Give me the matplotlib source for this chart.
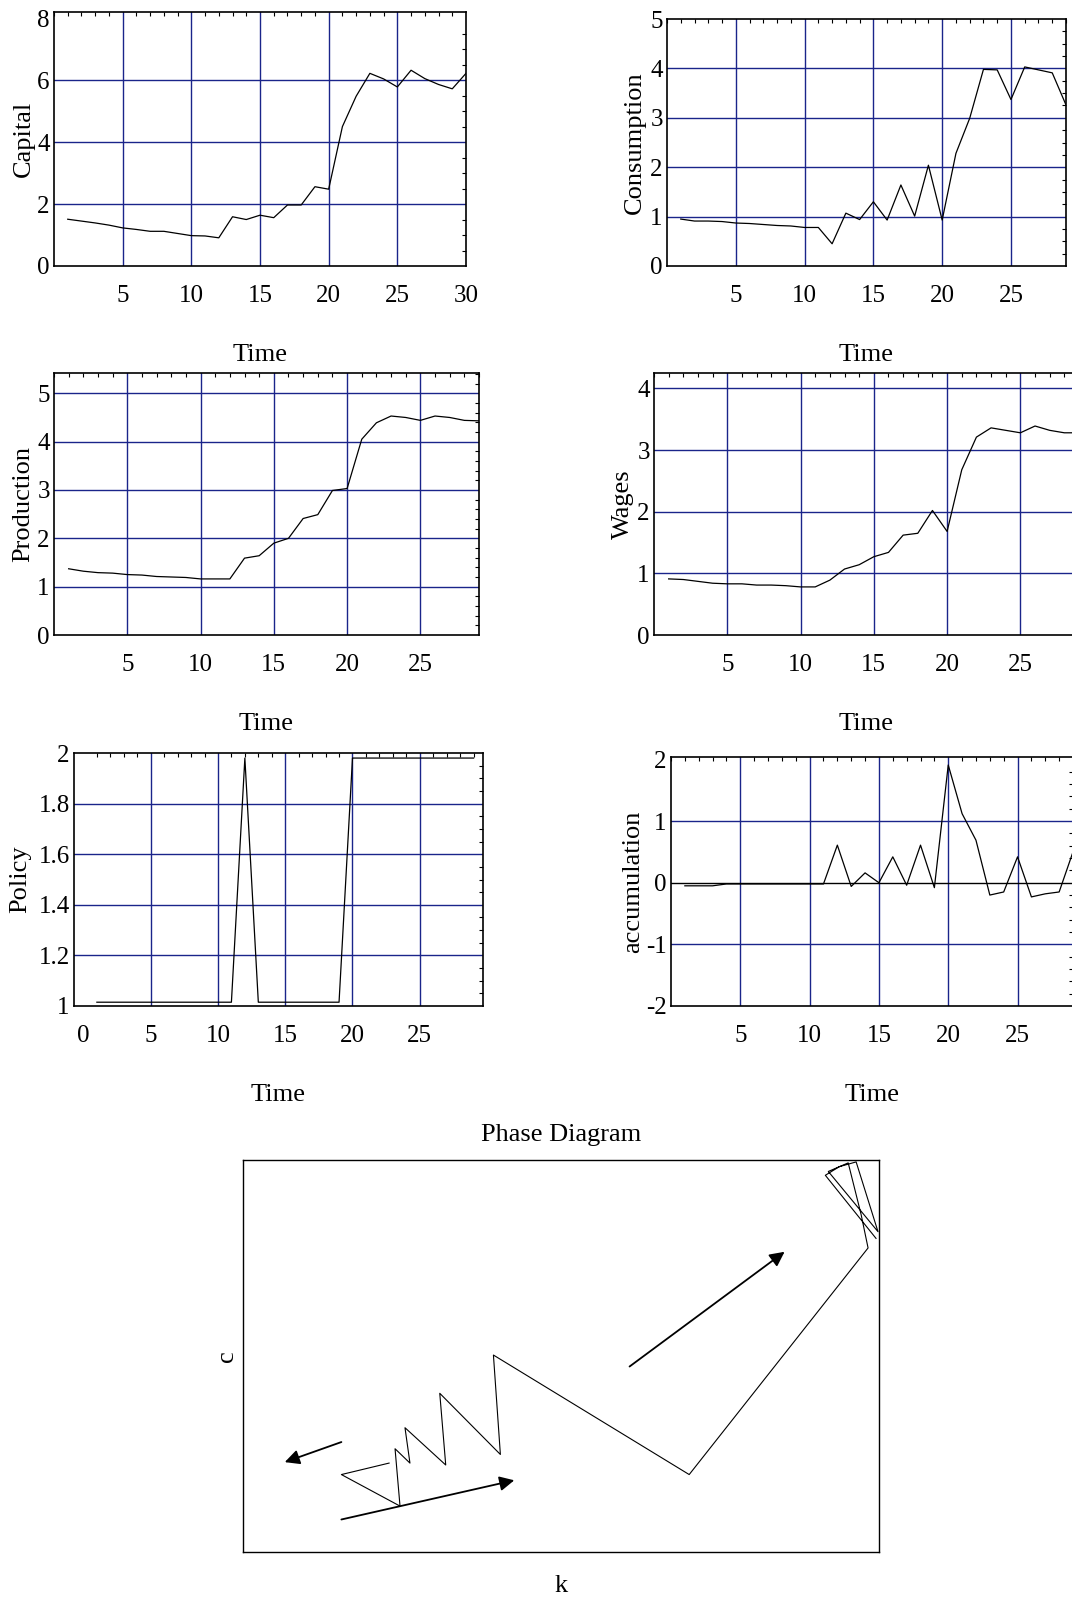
import matplotlib
matplotlib.use("Agg")
import matplotlib.pyplot as plt
from matplotlib.ticker import MultipleLocator

plt.rcParams['font.family'] = ['Liberation Serif', 'DejaVu Serif']
plt.rcParams['axes.unicode_minus'] = False

# time axis shared by the panels
time = list(range(1, 31))

capital = [1.51, 1.45, 1.39, 1.32, 1.23, 1.18, 1.12, 1.12, 1.05, 0.98,
           0.97, 0.91, 1.59, 1.50, 1.64, 1.56, 1.97, 1.97, 2.56, 2.48,
           4.50, 5.48, 6.22, 6.04, 5.78, 6.32, 6.05, 5.86, 5.72, 6.22]
consumption = [0.95, 0.91, 0.91, 0.90, 0.87, 0.86, 0.84, 0.82, 0.81, 0.78,
               0.78, 0.45, 1.07, 0.94, 1.30, 0.93, 1.64, 1.01, 2.04, 0.93,
               2.28, 2.99, 3.98, 3.97, 3.37, 4.03, 3.97, 3.91, 3.26]
production = [1.37, 1.32, 1.29, 1.28, 1.25, 1.24, 1.21, 1.20, 1.19, 1.16,
              1.16, 1.16, 1.59, 1.64, 1.90, 2.00, 2.41, 2.49, 2.99, 3.03,
              4.05, 4.39, 4.53, 4.50, 4.44, 4.53, 4.50, 4.44, 4.43]
wages = [0.91, 0.90, 0.87, 0.84, 0.83, 0.83, 0.81, 0.81, 0.80, 0.78,
         0.78, 0.89, 1.07, 1.14, 1.27, 1.34, 1.62, 1.65, 2.02, 1.68,
         2.68, 3.21, 3.36, 3.32, 3.28, 3.39, 3.32, 3.28, 3.28]
policy = [1.015, 1.015, 1.015, 1.015, 1.015, 1.015, 1.015, 1.015, 1.015, 1.015,
          1.015, 1.98, 1.015, 1.015, 1.015, 1.015, 1.015, 1.015, 1.015, 1.98,
          1.98, 1.98, 1.98, 1.98, 1.98, 1.98, 1.98, 1.98, 1.98]
accumulation = [-0.05, -0.05, -0.05, -0.02, -0.02, -0.02, -0.02, -0.02, -0.02, -0.02,
                -0.02, 0.61, -0.06, 0.16, 0.00, 0.42, -0.04, 0.61, -0.08, 1.91,
                1.12, 0.69, -0.20, -0.15, 0.42, -0.23, -0.18, -0.15, 0.50]

# phase diagram path (c against k) and the direction arrows
phase_k = [1.47, 0.99, 1.58, 1.53, 1.68, 1.63, 2.04, 1.98, 2.59, 2.52,
           4.49, 6.29, 6.22, 6.09, 5.89, 6.39, 6.17, 6.00, 5.86, 6.37]
phase_c = [0.93, 0.81, 0.48, 1.08, 0.93, 1.30, 0.91, 1.66, 1.02, 2.06,
           0.81, 3.18, 3.53, 4.07, 3.98, 3.35, 4.08, 4.03, 3.94, 3.28]
arrows = [((0.99, 1.15), (0.42, 0.94)),
          ((0.99, 0.34), (2.73, 0.75)),
          ((3.89, 1.94), (5.45, 3.14))]

W, H = 1072, 1600
GRID = '#1a248a'

fig = plt.figure(figsize=(W / 100, H / 100), dpi=100)


def px_axes(l, t, r, b):
    return fig.add_axes([l / W, 1 - b / H, (r - l) / W, (b - t) / H])


# name, values, box (l, t, r, b), xlim, ylim, xticks, yticks, ytick labels,
# vertical grid, horizontal grid, minor y step, ylabel offset px
panels = [
    ("Capital", capital, (54, 12, 466, 266), (0, 30), (0, 8.2),
     [5, 10, 15, 20, 25, 30], [0, 2, 4, 6, 8], None,
     [5, 10, 15, 20, 25], [2, 4, 6], 0.5, -30),
    ("Consumption", consumption, (667, 19, 1066, 266), (0, 29), (0, 5),
     [5, 10, 15, 20, 25], [0, 1, 2, 3, 4, 5], None,
     [5, 10, 15, 20, 25], [1, 2, 3, 4], 0.25, -32),
    ("Production", production, (54, 373, 479, 635), (0, 29), (0, 5.42),
     [5, 10, 15, 20, 25], [0, 1, 2, 3, 4, 5], None,
     [5, 10, 15, 20, 25], [1, 2, 3, 4, 5], 0.2, -31),
    ("Wages", wages, (654, 373, 1079, 635), (0, 29), (0, 4.25),
     [5, 10, 15, 20, 25], [0, 1, 2, 3, 4], None,
     [5, 10, 15, 20, 25], [1, 2, 3, 4], 0.2, -31),
    ("Policy", policy, (74, 753, 483, 1006), (-0.7, 29.7), (1, 2),
     [0, 5, 10, 15, 20, 25], [1, 1.2, 1.4, 1.6, 1.8, 2],
     ["1", "1.2", "1.4", "1.6", "1.8", "2"],
     [5, 10, 15, 20, 25], [1.2, 1.4, 1.6, 1.8], 0.05, -54),
    ("accumulation", accumulation, (671, 757, 1073, 1006), (0, 29), (-2, 2.04),
     [5, 10, 15, 20, 25], [-2, -1, 0, 1, 2], None,
     [5, 10, 15, 20, 25], [-1, 1], 0.2, -38),
]

for (name, vals, box, xlim, ylim, xt, yt, ytl, vgrid, hgrid, ystep, yoff) in panels:
    l, t, r, b = box
    ax = px_axes(l, t, r, b)
    for g in vgrid:
        ax.axvline(g, color=GRID, lw=1.0, zorder=1)
    for g in hgrid:
        ax.axhline(g, color=GRID, lw=1.0, zorder=1)
    if name == "accumulation":
        ax.axhline(0, color='black', lw=1.0, zorder=1.5)
    ax.plot(time[:len(vals)], vals, color='black', lw=0.9, zorder=2)
    ax.set_xlim(*xlim)
    ax.set_ylim(*ylim)
    ax.set_xticks(xt)
    ax.set_yticks(yt)
    if ytl:
        ax.set_yticklabels(ytl)
    ax.xaxis.set_minor_locator(MultipleLocator(1))
    ax.yaxis.set_minor_locator(MultipleLocator(ystep))
    ax.tick_params(which='major', length=0, labelsize=18)
    ax.tick_params(axis='x', which='major', pad=14)
    ax.tick_params(axis='y', which='major', pad=3)
    ax.tick_params(which='minor', bottom=False, left=False, top=True, right=True,
                   direction='in', length=3, width=0.8)
    for sp in ax.spines.values():
        sp.set_linewidth(1.2)
    ax.set_ylabel(name, fontsize=19, va='center', ha='center')
    ax.yaxis.set_label_coords(yoff / (r - l), 0.5)
    ax.set_xlabel("Time", fontsize=19, va='center')
    ax.xaxis.set_label_coords(0.5, -89 / (b - t))

# phase diagram
l, t, r, b = 243, 1160, 879, 1552
ax = px_axes(l, t, r, b)
ax.plot(phase_k, phase_c, color='black', lw=0.8)
for (x0, y0), (x1, y1) in arrows:
    ax.annotate("", xy=(x1, y1), xytext=(x0, y0),
                arrowprops=dict(arrowstyle='-|>', color='black', lw=1.3,
                                mutation_scale=22, shrinkA=0, shrinkB=0))
ax.set_xlim(0, 6.4)
ax.set_ylim(0, 4.1)
ax.set_xticks([])
ax.set_yticks([])
for sp in ax.spines.values():
    sp.set_linewidth(1.0)
ax.set_title("Phase Diagram", fontsize=19, pad=14)
ax.set_xlabel("k", fontsize=19, va='center')
ax.xaxis.set_label_coords(0.5, -34 / (b - t))
ax.set_ylabel("c", fontsize=19, va='center', ha='center')
ax.yaxis.set_label_coords(-16 / (r - l), 0.5)

fig.savefig("out.png", dpi=100)
